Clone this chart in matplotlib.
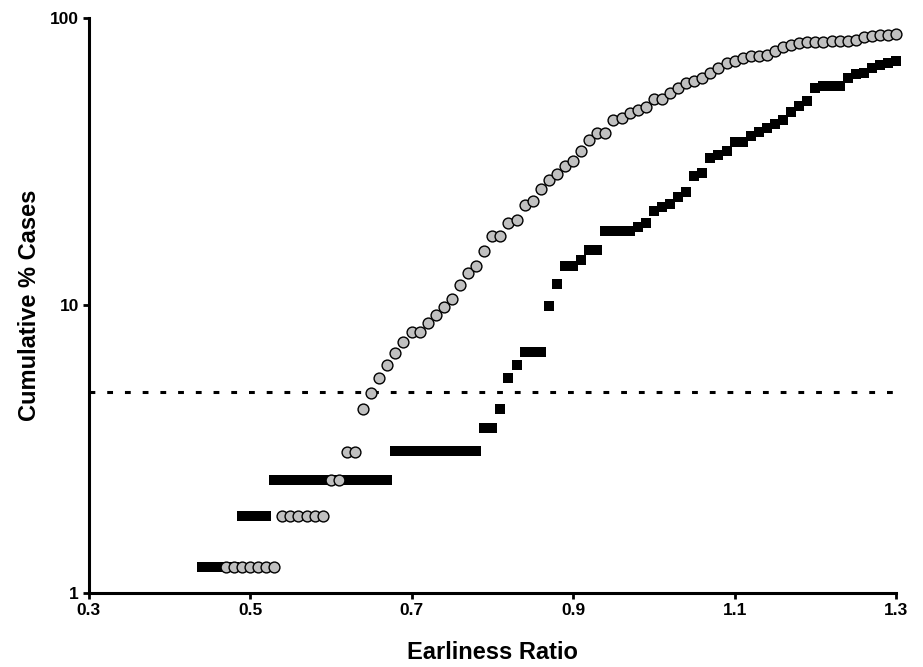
import matplotlib
matplotlib.use('Agg')
import matplotlib.pyplot as plt
from matplotlib.ticker import FixedLocator, NullLocator, FixedFormatter

plt.rcParams['font.family'] = ['Liberation Sans', 'DejaVu Sans']
plt.rcParams['font.weight'] = 'bold'

# grey circles: earliness ratio vs cumulative % cases
circle_x = [0.47, 0.48, 0.49, 0.50, 0.51, 0.52, 0.53,
            0.54, 0.55, 0.56, 0.57, 0.58, 0.59,
            0.60, 0.61, 0.62, 0.63, 0.64, 0.65, 0.66, 0.67, 0.68, 0.69,
            0.70, 0.71, 0.72, 0.73, 0.74, 0.75, 0.76, 0.77, 0.78, 0.79,
            0.80, 0.81, 0.82, 0.83, 0.84, 0.85, 0.86, 0.87, 0.88, 0.89,
            0.90, 0.91, 0.92, 0.93, 0.94, 0.95, 0.96, 0.97, 0.98, 0.99,
            1.00, 1.01, 1.02, 1.03, 1.04, 1.05, 1.06, 1.07, 1.08, 1.09,
            1.10, 1.11, 1.12, 1.13, 1.14, 1.15, 1.16, 1.17, 1.18, 1.19,
            1.20, 1.21, 1.22, 1.23, 1.24, 1.25, 1.26, 1.27, 1.28, 1.29, 1.30]
circle_y = [1.23, 1.23, 1.23, 1.23, 1.23, 1.23, 1.23,
            1.85, 1.85, 1.85, 1.85, 1.85, 1.85,
            2.48, 2.48, 3.10, 3.10, 4.35, 4.98, 5.58, 6.2, 6.83, 7.44,
            8.06, 8.06, 8.69, 9.29, 9.9, 10.5, 11.8, 13.0, 13.7, 15.5,
            17.4, 17.4, 19.3, 19.9, 22.4, 23.0, 25.5, 27.4, 28.6, 30.5,
            31.8, 34.4, 37.6, 39.9, 39.9, 44.2, 45.0, 46.9, 47.7, 49.2,
            52.3, 52.3, 54.7, 57.0, 59.3, 60.4, 61.7, 64.3, 66.9, 70.0,
            71.0, 72.5, 73.8, 73.8, 74.5, 76.9, 79.0, 80.7, 81.8, 82.5,
            82.5, 82.5, 83.3, 83.3, 83.3, 84.0, 85.6, 86.3, 87.0, 87.0, 88.2]

# black squares
square_x = [0.44, 0.45, 0.46, 0.47, 0.48,
            0.49, 0.50, 0.51, 0.52,
            0.53, 0.54, 0.55, 0.56, 0.57, 0.58, 0.59, 0.60, 0.61, 0.62,
            0.63, 0.64, 0.65, 0.66, 0.67,
            0.68, 0.69, 0.70, 0.71, 0.72, 0.73, 0.74, 0.75, 0.76, 0.77, 0.78,
            0.79, 0.80, 0.81, 0.82, 0.83, 0.84, 0.85, 0.86, 0.87, 0.88,
            0.89, 0.90, 0.91, 0.92, 0.93, 0.94, 0.95, 0.96, 0.97, 0.98, 0.99,
            1.00, 1.01, 1.02, 1.03, 1.04, 1.05, 1.06, 1.07, 1.08, 1.09,
            1.10, 1.11, 1.12, 1.13, 1.14, 1.15, 1.16, 1.17, 1.18, 1.19,
            1.20, 1.21, 1.22, 1.23, 1.24, 1.25, 1.26, 1.27, 1.28, 1.29, 1.30]
square_y = [1.23, 1.23, 1.23, 1.23, 1.23,
            1.85, 1.85, 1.85, 1.85,
            2.48, 2.48, 2.48, 2.48, 2.48, 2.48, 2.48, 2.48, 2.48, 2.48,
            2.48, 2.48, 2.48, 2.48, 2.48,
            3.11, 3.11, 3.11, 3.11, 3.11, 3.11, 3.11, 3.11, 3.11, 3.11, 3.11,
            3.74, 3.74, 4.35, 5.6, 6.23, 6.87, 6.87, 6.87, 9.98, 11.86,
            13.7, 13.7, 14.4, 15.6, 15.6, 18.1, 18.1, 18.1, 18.1, 18.75, 19.4,
            21.3, 22.0, 22.6, 23.9, 24.9, 28.3, 28.9, 32.7, 33.3, 34.4,
            36.9, 36.9, 39.0, 40.2, 41.3, 42.7, 44.2, 47.2, 49.6, 51.4,
            57.0, 57.8, 57.8, 57.8, 61.7, 63.8, 64.3, 66.9, 68.7, 69.6, 70.6]

threshold = 5
x_ticks = [0.3, 0.5, 0.7, 0.9, 1.1, 1.3]
y_ticks = [1, 10, 100]

fig = plt.figure(figsize=(9.23, 6.67), dpi=100)
ax = fig.add_axes([0.0959, 0.111, 0.875, 0.862])

ax.set_yscale('log')
ax.set_xlim(0.3, 1.3)
ax.set_ylim(1, 100)

ax.axhline(threshold, color='black', linewidth=2.2, dashes=(1.9, 3.9), zorder=1)
ax.plot(square_x, square_y, linestyle='none', marker='s', markersize=6.6,
        color='black', markeredgewidth=0, zorder=2, clip_on=False)
ax.plot(circle_x, circle_y, linestyle='none', marker='o', markersize=7.8,
        markerfacecolor='#c0c0c0', markeredgecolor='black', markeredgewidth=1.0,
        zorder=3, clip_on=False)

for side in ['top', 'right']:
    ax.spines[side].set_visible(False)
for side in ['left', 'bottom']:
    ax.spines[side].set_linewidth(2.2)

ax.xaxis.set_major_locator(FixedLocator(x_ticks))
ax.xaxis.set_major_formatter(FixedFormatter([str(v) for v in x_ticks]))
ax.yaxis.set_major_locator(FixedLocator(y_ticks))
ax.yaxis.set_major_formatter(FixedFormatter([str(v) for v in y_ticks]))
ax.yaxis.set_minor_locator(NullLocator())
ax.tick_params(axis='both', which='major', direction='out', length=4.5, width=2,
               labelsize=12.5, pad=2.5)
for lbl in ax.get_xticklabels() + ax.get_yticklabels():
    lbl.set_fontweight('bold')

ax.set_xlabel('Earliness Ratio', fontsize=17, fontweight='bold', va='center')
ax.set_ylabel('Cumulative % Cases', fontsize=17, fontweight='bold', va='center')
ax.xaxis.set_label_coords(0.5, -0.1027)
ax.yaxis.set_label_coords(-0.0725, 0.5)

plt.savefig('out.png', dpi=100)
plt.close(fig)
